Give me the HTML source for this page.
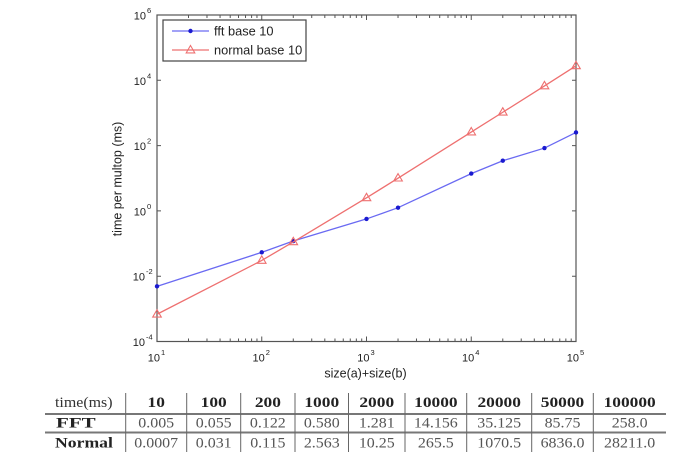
<!DOCTYPE html>
<html><head><meta charset="utf-8"><style>
html,body{margin:0;padding:0;background:#fff;}
svg{display:block;}
</style></head><body>
<svg width="679" height="466" viewBox="0 0 679 466" xmlns="http://www.w3.org/2000/svg">
<rect x="0" y="0" width="679" height="466" fill="#fff"/>
<!-- axes frame -->
<rect x="157" y="15" width="419" height="326.5" fill="none" stroke="#555" stroke-width="1.2"/>
<g stroke="#555" stroke-width="1">
<!-- major x ticks -->
<path d="M157 341.5v-5M261.75 341.5v-5M366.5 341.5v-5M471.25 341.5v-5M576 341.5v-5M157 15v5M261.75 15v5M366.5 15v5M471.25 15v5M576 15v5"/>
<!-- minor x ticks -->
<path d="M188.5 341.5v-3M206.98 341.5v-3M220.06 341.5v-3M230.21 341.5v-3M238.51 341.5v-3M245.52 341.5v-3M251.6 341.5v-3M256.96 341.5v-3
M293.28 341.5v-3M311.73 341.5v-3M324.81 341.5v-3M334.96 341.5v-3M343.26 341.5v-3M350.27 341.5v-3M356.35 341.5v-3M361.71 341.5v-3
M398.03 341.5v-3M416.48 341.5v-3M429.56 341.5v-3M439.71 341.5v-3M448.01 341.5v-3M455.02 341.5v-3M461.1 341.5v-3M466.46 341.5v-3
M502.78 341.5v-3M521.23 341.5v-3M534.31 341.5v-3M544.46 341.5v-3M552.76 341.5v-3M559.77 341.5v-3M565.85 341.5v-3M571.21 341.5v-3
M188.5 15v3M206.98 15v3M220.06 15v3M230.21 15v3M238.51 15v3M245.52 15v3M251.6 15v3M256.96 15v3
M293.28 15v3M311.73 15v3M324.81 15v3M334.96 15v3M343.26 15v3M350.27 15v3M356.35 15v3M361.71 15v3
M398.03 15v3M416.48 15v3M429.56 15v3M439.71 15v3M448.01 15v3M455.02 15v3M461.1 15v3M466.46 15v3
M502.78 15v3M521.23 15v3M534.31 15v3M544.46 15v3M552.76 15v3M559.77 15v3M565.85 15v3M571.21 15v3"/>
<!-- y ticks -->
<path d="M157 80.3h4M157 145.6h4M157 210.9h4M157 276.2h4M576 80.3h-4M576 145.6h-4M576 210.9h-4M576 276.2h-4"/>
</g>
<!-- y tick labels -->
<g font-family="Liberation Sans, Arial, sans-serif" font-size="11" fill="#222">
<text x="146" y="19.5" text-anchor="end">10</text><text x="147" y="13" font-size="7.5">6</text>
<text x="146" y="84.8" text-anchor="end">10</text><text x="147" y="78.3" font-size="7.5">4</text>
<text x="146" y="150.1" text-anchor="end">10</text><text x="147" y="143.6" font-size="7.5">2</text>
<text x="146" y="215.4" text-anchor="end">10</text><text x="147" y="208.9" font-size="7.5">0</text>
<text x="145" y="280.7" text-anchor="end">10</text><text x="146" y="274.2" font-size="7.5">-2</text>
<text x="145" y="346" text-anchor="end">10</text><text x="146" y="339.5" font-size="7.5">-4</text>
<!-- x tick labels -->
<text x="160" y="361.5" text-anchor="end">10</text><text x="161" y="355" font-size="7.5">1</text>
<text x="264.75" y="361.5" text-anchor="end">10</text><text x="265.75" y="355" font-size="7.5">2</text>
<text x="369.5" y="361.5" text-anchor="end">10</text><text x="370.5" y="355" font-size="7.5">3</text>
<text x="474.25" y="361.5" text-anchor="end">10</text><text x="475.25" y="355" font-size="7.5">4</text>
<text x="579" y="361.5" text-anchor="end">10</text><text x="580" y="355" font-size="7.5">5</text>
</g>
<!-- axis labels -->
<text x="365.5" y="377.5" text-anchor="middle" font-family="Liberation Sans, Arial, sans-serif" font-size="12.5" fill="#222">size(a)+size(b)</text>
<text transform="translate(121.5,179) rotate(-90)" text-anchor="middle" font-family="Liberation Sans, Arial, sans-serif" font-size="12.5" fill="#222">time per multop (ms)</text>
<!-- FFT series -->
<polyline fill="none" stroke="#6a6af2" stroke-width="1.3" points="157,286.35 261.75,252.34 293.28,241.04 366.5,218.93 398.03,207.69 471.25,173.6 502.78,160.72 544.47,148.06 576,132.44"/>
<g fill="#1a1ad0">
<circle cx="157" cy="286.35" r="2.2"/><circle cx="261.75" cy="252.34" r="2.2"/><circle cx="293.28" cy="241.04" r="2.2"/><circle cx="366.5" cy="218.93" r="2.2"/><circle cx="398.03" cy="207.69" r="2.2"/><circle cx="471.25" cy="173.6" r="2.2"/><circle cx="502.78" cy="160.72" r="2.2"/><circle cx="544.47" cy="148.06" r="2.2"/><circle cx="576" cy="132.44" r="2.2"/>
</g>
<!-- Normal series -->
<polyline fill="none" stroke="#ee7070" stroke-width="1.3" points="157,314.24 261.75,260.47 293.28,241.88 366.5,197.85 398.03,178.19 471.25,132.03 502.78,112.25 544.47,85.96 576,65.85"/>
<g fill="none" stroke="#ee7070" stroke-width="1.1">
<path d="M157 309.7l4.3 7.4h-8.6z"/>
<path d="M261.75 255.9l4.3 7.4h-8.6z"/>
<path d="M293.28 237.3l4.3 7.4h-8.6z"/>
<path d="M366.5 193.3l4.3 7.4h-8.6z"/>
<path d="M398.03 173.6l4.3 7.4h-8.6z"/>
<path d="M471.25 127.5l4.3 7.4h-8.6z"/>
<path d="M502.78 107.7l4.3 7.4h-8.6z"/>
<path d="M544.47 81.4l4.3 7.4h-8.6z"/>
<path d="M576 61.3l4.3 7.4h-8.6z"/>
</g>
<!-- legend -->
<rect x="163" y="20" width="143" height="41" fill="#fff" stroke="#444" stroke-width="1.2"/>
<line x1="172" y1="31" x2="209" y2="31" stroke="#6a6af2" stroke-width="1.3"/>
<circle cx="190.5" cy="31" r="2.2" fill="#1a1ad0"/>
<line x1="172" y1="50" x2="209" y2="50" stroke="#ee7070" stroke-width="1.3"/>
<path d="M190.5 45.5l4.3 7.4h-8.6z" fill="none" stroke="#ee7070" stroke-width="1.1"/>
<g font-family="Liberation Sans, Arial, sans-serif" font-size="12.8" fill="#222">
<text x="214" y="35.5">fft base 10</text>
<text x="214" y="54.5">normal base 10</text>
</g>
<!-- table -->
<g stroke="#777">
<line x1="45" y1="414" x2="666" y2="414" stroke-width="2"/>
<line x1="45" y1="432.5" x2="666" y2="432.5" stroke-width="2"/>
</g>
<g stroke="#666" stroke-width="1">
<path d="M125.7 393v59M186.7 393v59M240.7 393v59M295 393v59M348.5 393v59M405 393v59M466.7 393v59M531.7 393v59M593.3 393v59"/>
</g>
<g font-family="Liberation Serif, Times New Roman, serif" font-size="14.5">
<!-- header -->
<text transform="translate(55,407) scale(1.1,1)" fill="#333">time(ms)</text>
<g font-weight="bold" fill="#222" text-anchor="middle">
<text transform="translate(156.2,407) scale(1.2,1)">10</text>
<text transform="translate(213.7,407) scale(1.2,1)">100</text>
<text transform="translate(267.85,407) scale(1.2,1)">200</text>
<text transform="translate(321.75,407) scale(1.2,1)">1000</text>
<text transform="translate(376.75,407) scale(1.2,1)">2000</text>
<text transform="translate(435.85,407) scale(1.2,1)">10000</text>
<text transform="translate(499.2,407) scale(1.2,1)">20000</text>
<text transform="translate(562.5,407) scale(1.2,1)">50000</text>
<text transform="translate(629.65,407) scale(1.2,1)">100000</text>
</g>
<text transform="translate(56,427.7) scale(1.45,1)" font-weight="bold" fill="#222">FFT</text>
<text transform="translate(55,447.7) scale(1.22,1)" font-weight="bold" fill="#222">Normal</text>
<g fill="#555" text-anchor="middle">
<text transform="translate(156.2,427.7) scale(1.1,1)">0.005</text>
<text transform="translate(213.7,427.7) scale(1.1,1)">0.055</text>
<text transform="translate(267.85,427.7) scale(1.1,1)">0.122</text>
<text transform="translate(321.75,427.7) scale(1.1,1)">0.580</text>
<text transform="translate(376.75,427.7) scale(1.1,1)">1.281</text>
<text transform="translate(435.85,427.7) scale(1.1,1)">14.156</text>
<text transform="translate(499.2,427.7) scale(1.1,1)">35.125</text>
<text transform="translate(562.5,427.7) scale(1.1,1)">85.75</text>
<text transform="translate(629.65,427.7) scale(1.1,1)">258.0</text>
<text transform="translate(156.2,447.7) scale(1.1,1)">0.0007</text>
<text transform="translate(213.7,447.7) scale(1.1,1)">0.031</text>
<text transform="translate(267.85,447.7) scale(1.1,1)">0.115</text>
<text transform="translate(321.75,447.7) scale(1.1,1)">2.563</text>
<text transform="translate(376.75,447.7) scale(1.1,1)">10.25</text>
<text transform="translate(435.85,447.7) scale(1.1,1)">265.5</text>
<text transform="translate(499.2,447.7) scale(1.1,1)">1070.5</text>
<text transform="translate(562.5,447.7) scale(1.1,1)">6836.0</text>
<text transform="translate(629.65,447.7) scale(1.1,1)">28211.0</text>
</g>
</g>
</svg>
</body></html>
